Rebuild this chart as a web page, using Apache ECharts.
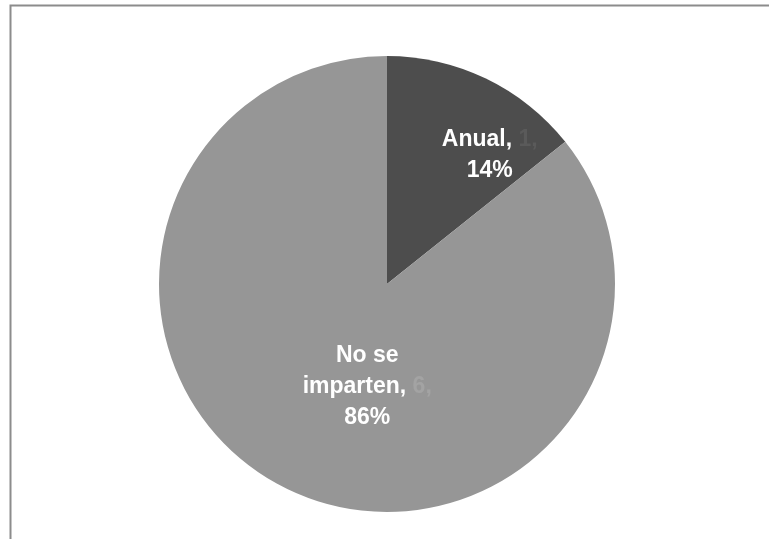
<!DOCTYPE html>
<html>
<head>
<meta charset="utf-8">
<script src="https://cdn.jsdelivr.net/npm/echarts@6/dist/echarts.min.js"></script>
<style>
  html, body { margin: 0; padding: 0; background: #fff; }
  #chart { width: 769px; height: 539px; }
</style>
</head>
<body>
<div id="chart"></div>
<script>
const categories = ["Anual", "No se imparten"];
const values = [1, 6];
const percents = ["14%", "86%"];

const sliceColors = ["#4d4d4d", "#969696"];
const valueColors = ["#5a5a5a", "#a3a3a3"];
// label nudges to mimic the original placement
const labelOffsets = [[52, -23], [31, -3]];

const myChart = echarts.init(document.getElementById("chart"));

const seriesData = categories.map((name, i) => ({
  name: name,
  value: values[i],
  itemStyle: { color: sliceColors[i] },
  label: {
    offset: labelOffsets[i],
    formatter: () => {
      const head = name === "No se imparten" ? "{t|No se}\n{t|imparten, }" : "{t|" + name + ", }";
      return head + "{v|" + values[i] + ",}\n{t|" + percents[i] + "}";
    },
    rich: {
      t: { color: "#fff", fontWeight: "bold", fontSize: 23, fontFamily: "Liberation Sans", lineHeight: 31 },
      v: { color: valueColors[i], fontWeight: "bold", fontSize: 23, fontFamily: "Liberation Sans", lineHeight: 31 }
    }
  }
}));

const option = {
  animation: false,
  graphic: [{
    type: "rect",
    shape: { x: 10.5, y: 5.5, width: 800, height: 600 },
    style: { fill: "none", stroke: "#8c8c8c", lineWidth: 2 },
    silent: true
  }],
  series: [{
    type: "pie",
    center: [387, 284],
    radius: [0, 228],
    startAngle: 90,
    clockwise: true,
    silent: true,
    label: { show: true, position: "inside", align: "center" },
    labelLine: { show: false },
    itemStyle: { borderWidth: 0 },
    data: seriesData
  }]
};
option && myChart.setOption(option);
</script>
</body>
</html>
